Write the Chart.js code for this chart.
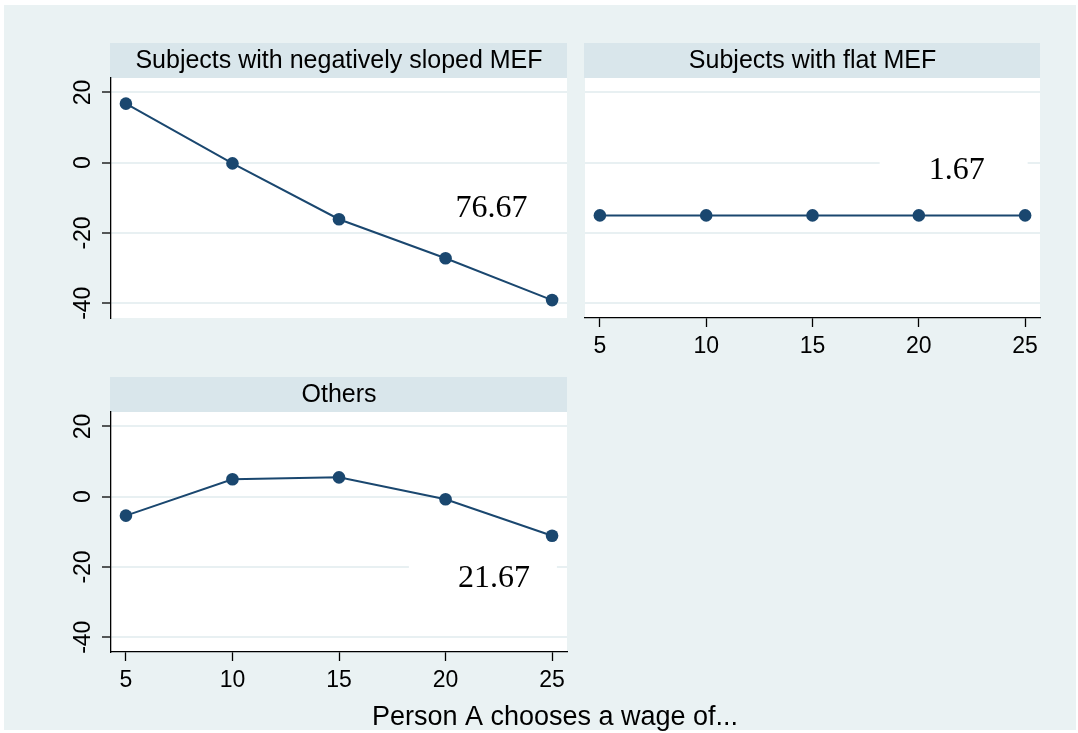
<!DOCTYPE html>
<html><head><meta charset="utf-8">
<script src="https://cdn.jsdelivr.net/npm/chart.js@4"></script>
<style>
html,body{margin:0;padding:0;background:#fff;}
#wrap{position:relative;width:1078px;height:733px;overflow:hidden;}
#bg{position:absolute;left:4px;top:5px;width:1072px;height:725px;background:#EAF2F3;}
canvas{position:absolute;left:0;top:0;}
</style></head><body>
<div id="wrap"><div id="bg"></div>
<canvas id="c1" width="1078" height="733"></canvas>
<canvas id="c2" width="1078" height="733"></canvas>
<canvas id="c3" width="1078" height="733"></canvas>
</div>
<script>
// ---- data ----
const wages = [5, 10, 15, 20, 25];
const negSloped = [16.8, -0.2, -16.1, -27.2, -39.1];
const flatMEF = [-15, -15, -15, -15, -15];
const others = [-5.4, 4.95, 5.5, -0.74, -11.1];
const panelTitles = ["Subjects with negatively sloped MEF", "Subjects with flat MEF", "Others"];
const shareLabels = ["76.67", "1.67", "21.67"];
const yTicks = [-40, -20, 0, 20];
const xTicks = [5, 10, 15, 20, 25];
const xAxisTitle = "Person A chooses a wage of...";

// ---- styling ----
const NAVY = '#1A476F';
const STRIP = '#D9E6EB';
const GRID = '#E8F0F2';
const SANS = '"Liberation Sans", Arial, sans-serif';
const SERIF = '"Liberation Serif", "Times New Roman", serif';
const W = 1078, H = 733;
const Y_W = 40, X_H = 50;

const deco = {
  id: 'deco',
  beforeDraw(chart, args, o) {
    const ctx = chart.ctx, a = chart.chartArea;
    ctx.save();
    ctx.fillStyle = '#fff';
    ctx.fillRect(a.left, a.top, a.right - a.left, a.bottom - a.top);
    ctx.fillStyle = STRIP;
    ctx.fillRect(a.left - 1, a.top - 35, a.right - a.left + 1, 35);
    ctx.fillStyle = '#000';
    ctx.font = '25px ' + SANS;
    ctx.textAlign = 'center';
    ctx.textBaseline = 'middle';
    ctx.fillText(o.title, (a.left + a.right) / 2, a.top - 17);
    ctx.restore();
  },
  beforeDatasetsDraw(chart, args, o) {
    const ctx = chart.ctx;
    const cx = chart.scales.x.getPixelForValue(o.labelAt[0]);
    const cy = chart.scales.y.getPixelForValue(o.labelAt[1]);
    ctx.save();
    ctx.font = '32px ' + SERIF;
    const tw = ctx.measureText(o.label).width;
    ctx.fillStyle = '#fff';
    ctx.fillRect(cx - tw / 2 - 49, cy - 19, 148, 38);
    ctx.fillStyle = '#000';
    ctx.textAlign = 'center';
    ctx.textBaseline = 'middle';
    ctx.fillText(o.label, cx, cy + 1);
    ctx.restore();
  },
  afterDraw(chart, args, o) {
    const ctx = chart.ctx, a = chart.chartArea, ys = chart.scales.y;
    ctx.save();
    if (o.showY) {
      ctx.font = '23px ' + SANS;
      ctx.fillStyle = '#000';
      ctx.textAlign = 'center';
      ctx.textBaseline = 'middle';
      yTicks.forEach(v => {
        const py = ys.getPixelForValue(v);
        ctx.save();
        ctx.translate(a.left - 27.5, py);
        ctx.rotate(-Math.PI / 2);
        ctx.fillText(String(v), 0, 0);
        ctx.restore();
      });
    }
    if (o.axisTitle) {
      ctx.font = '27px ' + SANS;
      ctx.fillStyle = '#000';
      ctx.textAlign = 'center';
      ctx.textBaseline = 'alphabetic';
      ctx.fillText(o.axisTitle, 555, 725);
    }
    ctx.restore();
  }
};

function makePanel(id, values, cfg) {
  const padding = {
    left: cfg.box.l - (cfg.showY ? Y_W : 0),
    top: cfg.box.t,
    right: W - cfg.box.r,
    bottom: H - cfg.box.b - (cfg.showX ? X_H : 0)
  };
  return new Chart(document.getElementById(id), {
    type: 'line',
    data: {
      datasets: [{
        data: wages.map((w, i) => ({ x: w, y: values[i] })),
        borderColor: NAVY,
        backgroundColor: NAVY,
        borderWidth: 2,
        pointRadius: 6.3,
        pointBorderWidth: 0,
        pointBackgroundColor: NAVY,
        tension: 0,
        clip: false
      }]
    },
    options: {
      responsive: false,
      animation: false,
      events: [],
      layout: { padding },
      plugins: {
        legend: { display: false },
        tooltip: { enabled: false },
        deco: { title: cfg.title, label: cfg.label, labelAt: cfg.labelAt, showY: cfg.showY, axisTitle: cfg.axisTitle }
      },
      scales: {
        x: {
          type: 'linear', min: 4.3, max: 25.7,
          display: cfg.showX,
          afterBuildTicks: s => { s.ticks = xTicks.map(v => ({ value: v })); },
          afterFit: s => { s.height = cfg.showX ? X_H : 0; },
          border: { display: true, color: '#000', width: 1.3 },
          grid: { drawOnChartArea: false, drawTicks: true, tickLength: 9, tickColor: '#000', tickWidth: 1.3 },
          ticks: { font: { family: SANS, size: 23 }, color: '#000', padding: 6, maxRotation: 0, minRotation: 0, autoSkip: false }
        },
        y: {
          type: 'linear', min: -44.2, max: 24.1,
          afterBuildTicks: s => { s.ticks = yTicks.map(v => ({ value: v })); },
          afterFit: s => { s.width = cfg.showY ? Y_W : 0; },
          border: { display: cfg.showY, color: '#000', width: 1.3 },
          grid: { color: GRID, lineWidth: 2, drawTicks: cfg.showY, tickLength: 9, tickColor: '#000', tickWidth: 1.3 },
          ticks: { display: false }
        }
      }
    },
    plugins: [deco]
  });
}

makePanel('c1', negSloped, {
  box: { l: 111, t: 78, r: 567, b: 318 }, showY: true, showX: false,
  title: panelTitles[0], label: shareLabels[0], labelAt: [22.16, -12.9]
});
makePanel('c2', flatMEF, {
  box: { l: 585, t: 78, r: 1040, b: 318 }, showY: false, showX: true,
  title: panelTitles[1], label: shareLabels[1], labelAt: [21.78, -2.08]
});
makePanel('c3', others, {
  box: { l: 111, t: 412, r: 567, b: 652 }, showY: true, showX: true,
  title: panelTitles[2], label: shareLabels[2], labelAt: [22.27, -23.14], axisTitle: xAxisTitle
});
</script>
</body></html>
